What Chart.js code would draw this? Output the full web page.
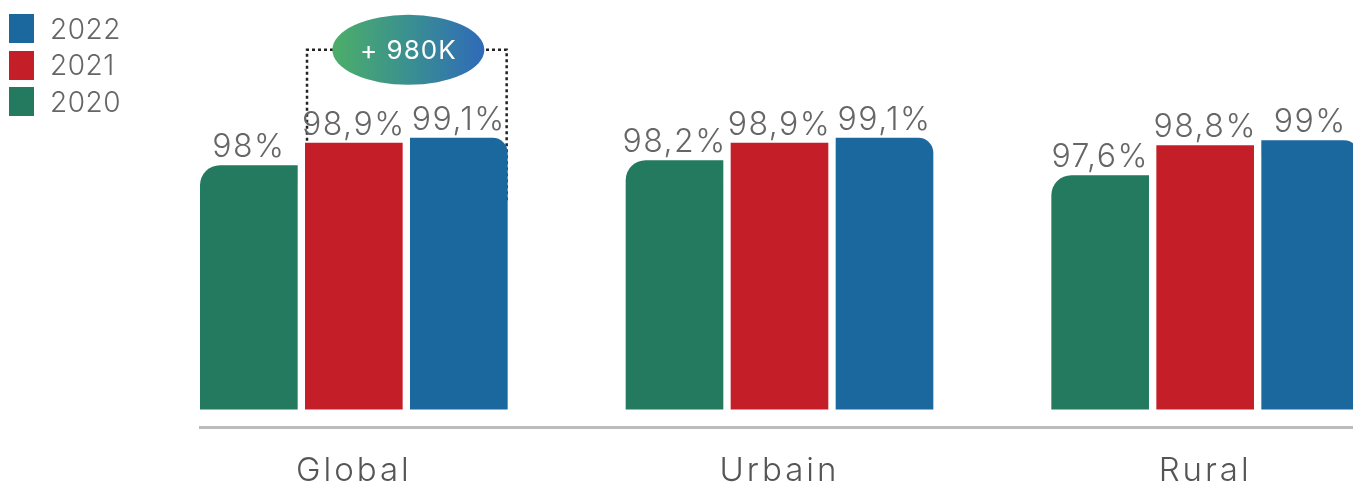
<!DOCTYPE html>
<html>
<head>
<meta charset="utf-8">
<script src="https://cdn.jsdelivr.net/npm/chart.js@4"></script>
<style>
  body { margin: 0; background: #fff; overflow: hidden; }
  #wrap { position: relative; width: 1353px; height: 488px; overflow: hidden; }
  #legend { position: absolute; left: 9px; top: 14px; font-family: Inter, sans-serif; font-weight: 300; font-size: 28px; color: #666; letter-spacing: 0.5px; }
  .item { display: flex; align-items: center; height: 29px; margin-bottom: 7.5px; }
  .box { width: 25px; height: 29px; margin-right: 16px; }
</style>
</head>
<body>
<div id="wrap">
  <canvas id="chart" width="1418" height="515"></canvas>
  <div id="legend"></div>
</div>
<script>
// data
const categories = ["Global", "Urbain", "Rural"];
const years = ["2020", "2021", "2022"];
const values2020 = [98, 98.2, 97.6];
const values2021 = [98.9, 98.9, 98.8];
const values2022 = [99.1, 99.1, 99];
const colors = ["#237a5e", "#c41f28", "#1a689e"];
const gainLabel = "+ 980K";

const FONT = "Inter, sans-serif";

function fmt(v) {
  return String(v).replace(".", ",") + "%";
}

// legend, newest year on top
const legend = document.getElementById("legend");
for (let i = years.length - 1; i >= 0; i--) {
  const row = document.createElement("div");
  row.className = "item";
  row.innerHTML = '<div class="box" style="background:' + colors[i] + '"></div><span>' + years[i] + "</span>";
  legend.appendChild(row);
}

const extras = {
  id: "extras",
  beforeDraw(chart) {
    chart.ctx.letterSpacing = "3px";
  },
  beforeDatasetsDraw(chart) {
    const ctx = chart.ctx;
    const red = chart.getDatasetMeta(1).data[0];
    const blue = chart.getDatasetMeta(2).data[0];
    const left = red.x - red.width / 2 + 2;
    const right = blue.x + blue.width / 2 - 1;
    const cy = blue.y - 88;
    ctx.save();
    ctx.setLineDash([3, 3]);
    ctx.lineWidth = 2.5;
    ctx.strokeStyle = "#222";
    ctx.beginPath();
    ctx.moveTo(left, blue.y + 63);
    ctx.lineTo(left, cy);
    ctx.lineTo(right, cy);
    ctx.lineTo(right, blue.y + 63);
    ctx.stroke();
    ctx.restore();
  },
  afterDatasetsDraw(chart) {
    const ctx = chart.ctx;
    ctx.save();
    ctx.letterSpacing = "1.5px";
    // value labels
    ctx.font = "300 32px " + FONT;
    ctx.fillStyle = "#666";
    ctx.textAlign = "center";
    ctx.textBaseline = "alphabetic";
    chart.data.datasets.forEach((ds, di) => {
      chart.getDatasetMeta(di).data.forEach((bar, i) => {
        ctx.fillText(fmt(ds.data[i]), bar.x, bar.y - 8);
      });
    });

    // axis line
    const first = chart.getDatasetMeta(0).data[0];
    const yAxis = chart.scales.x.top;
    ctx.strokeStyle = "#bcbcbc";
    ctx.lineWidth = 3;
    ctx.beginPath();
    ctx.moveTo(first.x - first.width / 2 - 1, yAxis);
    ctx.lineTo(chart.width, yAxis);
    ctx.stroke();

    // gain bubble
    const red = chart.getDatasetMeta(1).data[0];
    const blue = chart.getDatasetMeta(2).data[0];
    const cx = ((red.x - red.width / 2) + (blue.x + blue.width / 2)) / 2 + 2;
    const cy = blue.y - 88;
    const grad = ctx.createLinearGradient(cx - 76, 0, cx + 76, 0);
    grad.addColorStop(0, "#4cae68");
    grad.addColorStop(0.5, "#3a9090");
    grad.addColorStop(1, "#2f6ab9");
    ctx.fillStyle = grad;
    ctx.beginPath();
    ctx.ellipse(cx, cy, 76, 35, 0, 0, Math.PI * 2);
    ctx.fill();
    ctx.fillStyle = "#fff";
    ctx.letterSpacing = "1px";
    ctx.font = "400 26px " + FONT;
    ctx.textBaseline = "middle";
    ctx.fillText(gainLabel, cx, cy + 1);
    ctx.restore();
  }
};

const seriesValues = [values2020, values2021, values2022];
const radii = [{ topLeft: 20 }, 0, { topRight: 15 }];

new Chart(document.getElementById("chart"), {
  type: "bar",
  data: {
    labels: categories,
    datasets: years.map((y, i) => ({
      label: y,
      data: seriesValues[i],
      backgroundColor: colors[i],
      borderRadius: radii[i],
      borderSkipped: "bottom",
      base: 88.2,
      categoryPercentage: 0.74,
      barPercentage: 0.93
    }))
  },
  options: {
    responsive: false,
    animation: false,
    layout: { padding: { left: 141, right: 0, top: 0, bottom: 0 } },
    plugins: {
      legend: { display: false },
      tooltip: { enabled: false }
    },
    scales: {
      x: {
        grid: { display: false, drawTicks: false, tickLength: 0 },
        border: { display: false },
        ticks: {
          padding: 24,
          color: "#555",
          font: { family: FONT, size: 33, weight: 300 }
        }
      },
      y: {
        display: false,
        min: 87.48,
        max: 104.63
      }
    }
  },
  plugins: [extras]
});
</script>
</body>
</html>
